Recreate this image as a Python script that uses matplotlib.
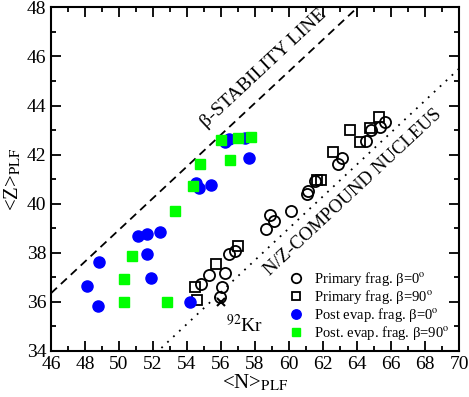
import matplotlib
matplotlib.use("Agg")
import matplotlib.pyplot as plt
import numpy as np
from matplotlib.ticker import MultipleLocator

plt.rcParams['font.family'] = ['Liberation Serif', 'DejaVu Serif']
plt.rcParams['mathtext.fontset'] = 'stix'

# Primary fragments, beta = 0 deg (open circles)
prim0_N = [54.82, 55.31, 55.94, 56.06, 56.22, 56.45, 56.84, 58.63, 58.88, 59.12,
           60.12, 61.04, 61.14, 61.51, 62.88, 63.10, 64.51, 64.80, 65.35, 65.65]
prim0_Z = [36.73, 37.10, 36.21, 36.59, 37.19, 37.95, 38.09, 38.96, 39.54, 39.30,
           39.72, 40.40, 40.53, 40.92, 41.60, 41.85, 42.55, 43.00, 43.14, 43.34]

# Primary fragments, beta = 90 deg (open squares)
prim90_N = [54.47, 54.57, 55.69, 57.02, 61.63, 61.88, 62.61, 63.59, 64.18, 64.76, 65.29]
prim90_Z = [36.59, 36.08, 37.53, 38.29, 40.97, 40.97, 42.09, 43.00, 42.53, 43.07, 43.55]

# Post-evaporation fragments, beta = 0 deg (blue filled circles)
post0_N = [48.10, 48.78, 48.84, 51.10, 51.63, 51.63, 51.86, 52.41, 54.18, 54.51,
           54.73, 55.39, 56.24, 56.49, 57.41, 57.65]
post0_Z = [36.65, 35.85, 37.61, 38.68, 38.75, 37.95, 36.99, 38.85, 36.01, 40.86,
           40.63, 40.75, 42.53, 42.62, 42.69, 41.88]

# Post-evaporation fragments, beta = 90 deg (green filled squares)
post90_N = [50.29, 50.29, 50.75, 52.80, 53.27, 54.37, 54.76, 55.98, 56.53, 56.98, 57.75]
post90_Z = [35.98, 36.92, 37.87, 35.99, 39.72, 40.73, 41.62, 42.60, 41.78, 42.69, 42.73]

# 92Kr
kr_N = [56.0]
kr_Z = [36.0]

# Reference lines: Z = a + b*N
beta_line = (36.35 - 0.646 * 46, 0.646)
nz_line = (0.0, 0.65)

legend_labels = ['Primary frag. β=0$^{\\rm o}$',
                 'Primary frag. β=90$^{\\rm o}$',
                 'Post evap. frag. β=0$^{\\rm o}$',
                 'Post. evap. frag. β=90$^{\\rm o}$']

fig = plt.figure(figsize=(4.69, 3.97), dpi=100)
ax = fig.add_axes([0.1087, 0.116, 0.87, 0.8655])

xs = np.array([46, 70])
ax.plot(xs, beta_line[0] + beta_line[1] * xs, color='black', lw=1.3,
        linestyle=(0, (4.5, 3)))
ax.plot(xs, nz_line[0] + nz_line[1] * xs, color='black', lw=1.3,
        linestyle=(0, (1, 3.5)))

h1, = ax.plot(prim0_N, prim0_Z, 'o', ms=8, mfc='none', mec='black', mew=1.3,
              label=legend_labels[0])
h2, = ax.plot(prim90_N, prim90_Z, 's', ms=7.5, mfc='none', mec='black', mew=1.3,
              label=legend_labels[1])
h3, = ax.plot(post0_N, post0_Z, 'o', ms=8, color='#0000ff', mec='#0000ff',
              label=legend_labels[2])
h4, = ax.plot(post90_N, post90_Z, 's', ms=7.5, color='#00ff00', mec='#00ff00',
              label=legend_labels[3])
ax.plot(kr_N, kr_Z, 'x', ms=6, mew=1.5, color='black')
ax.text(56.3, 35.05, r'$^{92}$Kr', fontsize=14, ha='left', va='center')

ax.text(58.5, 45.5, 'β-STABILITY LINE', fontsize=14, rotation=43,
        ha='center', va='center', rotation_mode='anchor')
ax.text(63.75, 40.45, 'N/Z-COMPOUND NUCLEUS', fontsize=13.5, rotation=43,
        ha='center', va='center', rotation_mode='anchor')

ax.set_xlim(46, 70)
ax.set_ylim(34, 48)
ax.xaxis.set_major_locator(MultipleLocator(2))
ax.xaxis.set_minor_locator(MultipleLocator(1))
ax.yaxis.set_major_locator(MultipleLocator(2))
ax.yaxis.set_minor_locator(MultipleLocator(1))
ax.tick_params(which='both', direction='in', top=True, right=True, labelsize=14,
               width=1.3)
ax.tick_params(which='major', length=7.2)
ax.tick_params(which='minor', length=3.6)
for s in ax.spines.values():
    s.set_linewidth(1.5)

ax.set_xlabel(r'<N>$_{\rm PLF}$', fontsize=15, labelpad=0)
ax.set_ylabel(r'<Z>$_{\rm PLF}$', fontsize=15, labelpad=2)

ax.legend(handles=[h1, h2, h3, h4], loc='center left', frameon=False,
          fontsize=10.5, handletextpad=0.8, labelspacing=0.0, borderpad=0,
          borderaxespad=0, bbox_to_anchor=(0.585, 0.13), handlelength=0.9,
          markerscale=0.85)

fig.savefig('out.png', dpi=100)
